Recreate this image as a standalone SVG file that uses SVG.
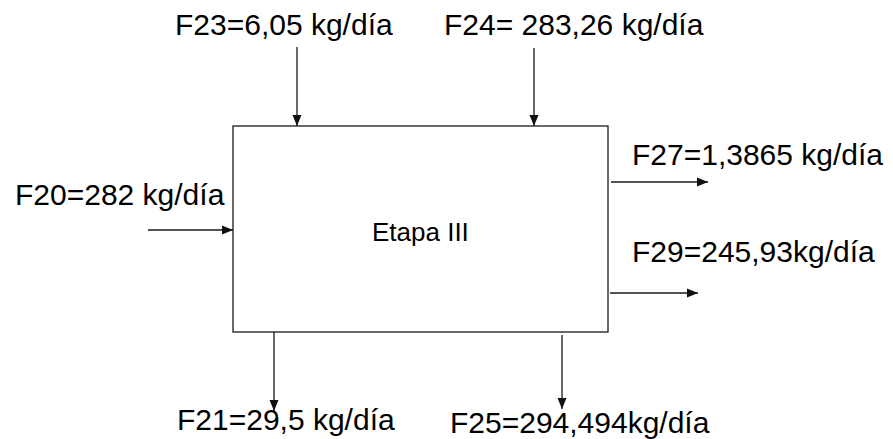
<svg xmlns="http://www.w3.org/2000/svg" width="893" height="439" viewBox="0 0 893 439">
<style>
.lbl{font-family:"Liberation Sans",Arial,sans-serif;font-size:30px;fill:#000}
.box{fill:#fff;stroke:#1a1a1a;stroke-width:1.3}
.conn{stroke:#1a1a1a;stroke-width:1.3;fill:none;marker-end:url(#ah)}
</style>
<defs>
<marker id="ah" markerUnits="userSpaceOnUse" markerWidth="11" markerHeight="10" refX="11" refY="5" orient="auto">
<path d="M0,0.5 L11,5 L0,9.5 z" fill="#111"/>
</marker>
</defs>
<rect width="893" height="439" fill="#fff"/>
<g id="etapa-iii">
<rect class="box" x="233" y="126" width="375" height="206"/>
<text class="lbl" x="372" y="241" style="font-size:26px">Etapa III</text>
</g>
<g id="connectors">
<line class="conn" x1="297" y1="47" x2="297" y2="126"/>
<line class="conn" x1="534" y1="48" x2="534" y2="126"/>
<line class="conn" x1="148" y1="230" x2="233" y2="230"/>
<line class="conn" x1="611" y1="182" x2="708" y2="182"/>
<line class="conn" x1="610" y1="293" x2="698" y2="293"/>
<line class="conn" x1="274" y1="332" x2="274" y2="411"/>
<line class="conn" x1="562" y1="335" x2="562" y2="409"/>
</g>
<g id="f23"><text class="lbl" x="175" y="35">F23=6,05 kg/día</text></g>
<g id="f24"><text class="lbl" x="444" y="35">F24= 283,26 kg/día</text></g>
<g id="f20"><text class="lbl" x="15" y="205">F20=282 kg/día</text></g>
<g id="f27"><text class="lbl" x="632" y="165">F27=1,3865 kg/día</text></g>
<g id="f29"><text class="lbl" x="632" y="262">F29=245,93kg/día</text></g>
<g id="f21"><text class="lbl" x="177" y="430">F21=29,5 kg/día</text></g>
<g id="f25"><text class="lbl" x="450" y="433">F25=294,494kg/día</text></g>
</svg>
